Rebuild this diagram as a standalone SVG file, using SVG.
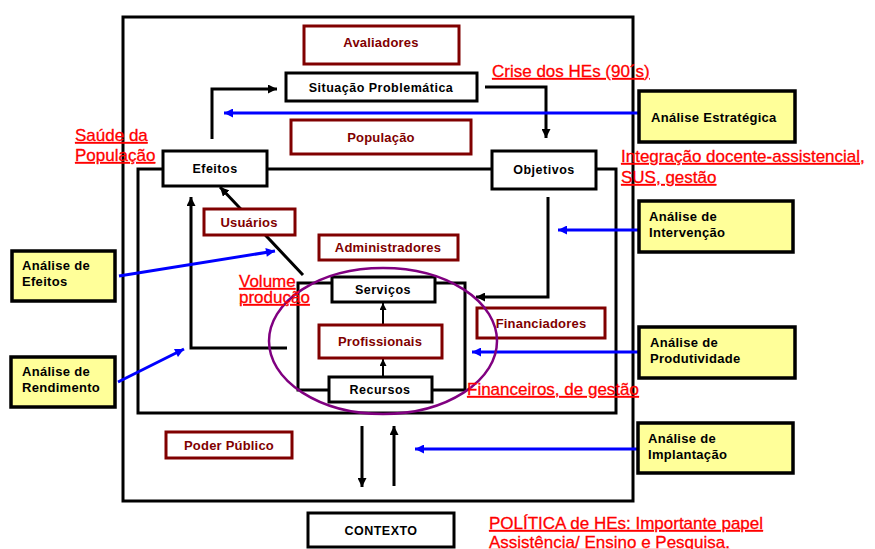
<svg xmlns="http://www.w3.org/2000/svg" width="875" height="549" viewBox="0 0 875 549">
  <style>
    .frame { fill: none; stroke: #000; stroke-width: 3; }
    .bx { fill: #fff; stroke: #000; stroke-width: 3; }
    .actor { fill: #fff; stroke: #800000; stroke-width: 3; }
    .ana { fill: #FFFF99; stroke: #000; stroke-width: 3.5; }
    .lbl { font-family: "Liberation Sans", Arial, sans-serif; font-weight: bold; font-size: 12.5px; letter-spacing: 0.5px; fill: #000; text-anchor: middle; }
    .albl { font-family: "Liberation Sans", Arial, sans-serif; font-weight: bold; font-size: 13px; letter-spacing: 0.2px; fill: #800000; text-anchor: middle; }
    .ylbl { font-family: "Liberation Sans", Arial, sans-serif; font-weight: bold; font-size: 13px; letter-spacing: 0.3px; fill: #000; }
    .note { font-family: "Liberation Sans", Arial, sans-serif; font-size: 17px; fill: #FF0000; stroke: #FF0000; stroke-width: 0.3; text-decoration: underline; }
    .k { fill: none; stroke: #000; stroke-width: 3; }
    .ks { fill: none; stroke: #000; stroke-width: 2; }
    .b { fill: none; stroke: #0000FF; stroke-width: 3; }
  </style>
  <defs>
    <marker id="ah" markerUnits="userSpaceOnUse" viewBox="0 0 10 10" refX="10" refY="5" markerWidth="9" markerHeight="9" orient="auto">
      <path d="M0,0 L10,5 L0,10 z" fill="#000"/>
    </marker>
    <marker id="ahs" markerUnits="userSpaceOnUse" viewBox="0 0 10 10" refX="10" refY="5" markerWidth="7" markerHeight="7" orient="auto">
      <path d="M0,0 L10,5 L0,10 z" fill="#000"/>
    </marker>
    <marker id="bh" markerUnits="userSpaceOnUse" viewBox="0 0 10 10" refX="10" refY="5" markerWidth="10" markerHeight="9" orient="auto">
      <path d="M0,0 L10,5 L0,10 z" fill="#0000FF"/>
    </marker>
  </defs>

  <rect width="875" height="549" fill="#fff"/>

  <!-- system boundaries -->
  <g id="frames">
    <rect class="frame" x="123" y="17" width="510" height="484"/>
    <rect class="frame" x="138" y="169" width="478" height="244"/>
    <rect class="frame" x="298" y="283" width="167" height="107"/>
  </g>

  <!-- connectors -->
  <g id="connectors">
    <polyline class="k" points="212,139 212,89 277,89" marker-end="url(#ah)"/>
    <polyline class="k" points="485,87 546,87 546,138" marker-end="url(#ah)"/>
    <polyline class="k" points="548,197 548,297 476,297" marker-end="url(#ah)"/>
    <polyline class="k" points="287,348 191,348 191,197" marker-end="url(#ah)"/>
    <line class="k" x1="303" y1="275" x2="220" y2="187" marker-end="url(#ah)"/>
    <line class="ks" x1="383" y1="325" x2="383" y2="303" marker-end="url(#ahs)"/>
    <line class="ks" x1="383" y1="377" x2="383" y2="359" marker-end="url(#ahs)"/>
    <line class="k" x1="362" y1="426" x2="362" y2="487" marker-end="url(#ah)"/>
    <line class="k" x1="394" y1="486" x2="394" y2="426" marker-end="url(#ah)"/>

    <line class="b" x1="639" y1="113" x2="224" y2="113" marker-end="url(#bh)"/>
    <line class="b" x1="639" y1="230" x2="558" y2="230" marker-end="url(#bh)"/>
    <line class="b" x1="639" y1="352" x2="472" y2="352" marker-end="url(#bh)"/>
    <line class="b" x1="638" y1="449" x2="415" y2="449" marker-end="url(#bh)"/>
    <line class="b" x1="119" y1="276" x2="275" y2="251" marker-end="url(#bh)"/>
    <line class="b" x1="118" y1="382" x2="184" y2="349" marker-end="url(#bh)"/>
  </g>

  <!-- stages -->
  <g id="situacao">
    <rect class="bx" x="286" y="73" width="191" height="28"/>
    <text class="lbl" x="381" y="92">Situação Problemática</text>
  </g>
  <g id="efeitos">
    <rect class="bx" x="163" y="151" width="104" height="35"/>
    <text class="lbl" x="215" y="173">Efeitos</text>
  </g>
  <g id="objetivos">
    <rect class="bx" x="492" y="151" width="104" height="38"/>
    <text class="lbl" x="544" y="174">Objetivos</text>
  </g>
  <g id="servicos">
    <rect class="bx" x="332" y="277" width="103" height="25"/>
    <text class="lbl" x="383" y="294">Serviços</text>
  </g>
  <g id="recursos">
    <rect class="bx" x="329" y="377" width="103" height="25"/>
    <text class="lbl" x="380" y="394">Recursos</text>
  </g>
  <g id="contexto">
    <rect class="bx" x="308" y="513" width="146" height="34"/>
    <text class="lbl" x="381" y="535">CONTEXTO</text>
  </g>

  <!-- actors -->
  <g id="avaliadores">
    <rect class="actor" x="304" y="26" width="155" height="38"/>
    <text class="albl" x="381" y="47">Avaliadores</text>
  </g>
  <g id="populacao">
    <rect class="actor" x="291" y="120" width="180" height="34"/>
    <text class="albl" x="381" y="142">População</text>
  </g>
  <g id="usuarios">
    <rect class="actor" x="204" y="209" width="91" height="26"/>
    <text class="albl" x="249" y="227">Usuários</text>
  </g>
  <g id="administradores">
    <rect class="actor" x="319" y="235" width="139" height="25"/>
    <text class="albl" x="388" y="252">Administradores</text>
  </g>
  <g id="profissionais">
    <rect class="actor" x="319" y="325" width="123" height="33"/>
    <text class="albl" x="380" y="346">Profissionais</text>
  </g>
  <g id="financiadores">
    <rect class="actor" x="477" y="308" width="128" height="30"/>
    <text class="albl" x="541" y="328">Financiadores</text>
  </g>
  <g id="poder-publico">
    <rect class="actor" x="166" y="432" width="126" height="26"/>
    <text class="albl" x="229" y="450">Poder Público</text>
  </g>

  <!-- production core -->
  <ellipse cx="383" cy="341" rx="114" ry="73" fill="none" stroke="#800080" stroke-width="2.5"/>

  <!-- analyses -->
  <g id="analise-estrategica">
    <rect class="ana" x="639" y="91" width="156" height="51"/>
    <text class="ylbl" x="651" y="122">Análise Estratégica</text>
  </g>
  <g id="analise-intervencao">
    <rect class="ana" x="639" y="201" width="154" height="51"/>
    <text class="ylbl" x="649" y="221">Análise  de</text>
    <text class="ylbl" x="649" y="237">Intervenção</text>
  </g>
  <g id="analise-produtividade">
    <rect class="ana" x="639" y="327" width="156" height="51"/>
    <text class="ylbl" x="650" y="347">Análise  de</text>
    <text class="ylbl" x="650" y="363">Produtividade</text>
  </g>
  <g id="analise-implantacao">
    <rect class="ana" x="638" y="423" width="155" height="50"/>
    <text class="ylbl" x="648" y="443">Análise  de</text>
    <text class="ylbl" x="648" y="459">Implantação</text>
  </g>
  <g id="analise-efeitos">
    <rect class="ana" x="12" y="251" width="103" height="50"/>
    <text class="ylbl" x="22" y="270">Análise  de</text>
    <text class="ylbl" x="22" y="286">Efeitos</text>
  </g>
  <g id="analise-rendimento">
    <rect class="ana" x="11" y="357" width="104" height="50"/>
    <text class="ylbl" x="22" y="376">Análise  de</text>
    <text class="ylbl" x="22" y="392">Rendimento</text>
  </g>

  <!-- annotations -->
  <g id="notes">
    <text class="note" x="492" y="77">Crise dos HEs (90´s)</text>
    <text class="note" x="75" y="141">Saúde da</text>
    <text class="note" x="75" y="161">População</text>
    <text class="note" x="621" y="162">Integração docente-assistencial,</text>
    <text class="note" x="621" y="183">SUS, gestão</text>
    <text class="note" x="239" y="287">Volume</text>
    <text class="note" x="239" y="303">produção</text>
    <text class="note" x="467" y="395">Financeiros, de gestão</text>
    <text class="note" x="489" y="529">POLÍTICA de HEs: Importante papel</text>
    <text class="note" x="489" y="548">Assistência/ Ensino e Pesquisa.</text>
  </g>
</svg>
